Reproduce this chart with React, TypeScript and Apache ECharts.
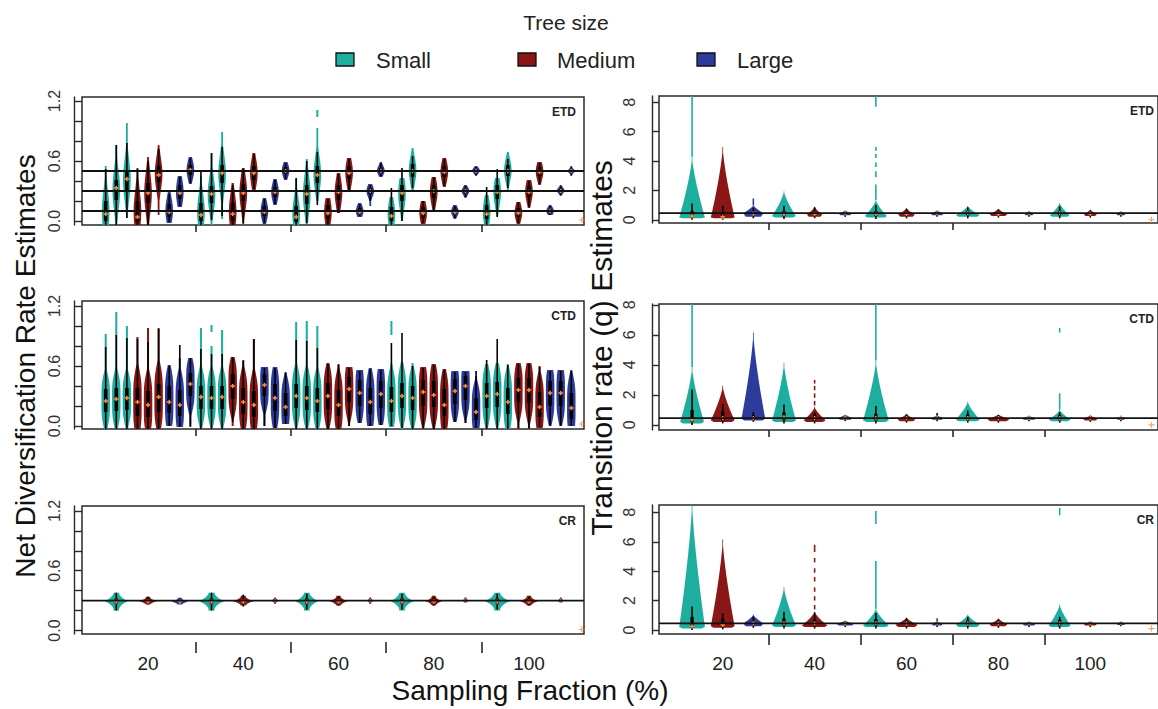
import React, { useEffect, useRef } from "react";
import * as echarts from "echarts";

const FONT = "'Liberation Sans', Arial, Helvetica, sans-serif";
const FRACTIONS = [20, 40, 60, 80, 100];
const SIZES = ["Small", "Medium", "Large"];
const SIZE_COLORS = ["#1dae9f", "#8b1616", "#2d3b9d"];
const MEDIAN_COLOR = "#ff8a3d";
const PANEL_LABELS = ["ETD", "CTD", "CR"];

// Left panels (net diversification rate): [median, q1, q3, whiskerLo, whiskerHi, violinLo, violinHi]
const ETD_RATE: number[][] = [
  [0.07, 0.0, 0.2, -0.04, 0.52, -0.04, 0.55], [0.33, 0.21, 0.41, -0.04, 0.76, -0.04, 0.76], [0.42, 0.31, 0.51, 0.03, 0.78, 0.03, 0.98],
  [0.04, -0.01, 0.2, -0.04, 0.52, -0.04, 0.53], [0.28, 0.18, 0.38, -0.04, 0.6, -0.04, 0.64], [0.46, 0.39, 0.55, 0.3, 0.72, 0.06, 0.76],
  [0.09, 0.04, 0.17, -0.01, 0.27, -0.02, 0.29], [0.28, 0.22, 0.36, 0.15, 0.44, 0.14, 0.45], [0.51, 0.46, 0.56, 0.38, 0.63, 0.37, 0.64],
  [0.06, 0.0, 0.18, -0.04, 0.5, -0.04, 0.45], [0.27, 0.18, 0.35, 0.01, 0.68, -0.04, 0.68], [0.48, 0.38, 0.56, 0.05, 0.74, 0.02, 0.89],
  [0.07, 0.0, 0.18, -0.04, 0.36, -0.04, 0.38], [0.28, 0.2, 0.37, -0.02, 0.52, -0.03, 0.53], [0.48, 0.41, 0.55, 0.32, 0.67, 0.3, 0.68],
  [0.09, 0.05, 0.15, -0.02, 0.22, -0.03, 0.23], [0.29, 0.24, 0.34, 0.17, 0.41, 0.16, 0.42], [0.5, 0.47, 0.54, 0.42, 0.58, 0.41, 0.59],
  [0.04, -0.01, 0.15, -0.04, 0.43, -0.04, 0.42], [0.27, 0.17, 0.36, -0.02, 0.6, -0.03, 0.62], [0.46, 0.38, 0.55, 0.16, 0.69, 0.2, 0.93],
  [0.08, 0.02, 0.16, -0.04, 0.22, -0.04, 0.23], [0.29, 0.21, 0.36, 0.08, 0.47, 0.08, 0.48], [0.48, 0.42, 0.55, 0.31, 0.62, 0.31, 0.63],
  [0.09, 0.07, 0.13, 0.05, 0.17, 0.04, 0.18], [0.3, 0.27, 0.33, 0.2, 0.36, 0.15, 0.37], [0.5, 0.48, 0.53, 0.45, 0.58, 0.44, 0.59],
  [0.05, 0.0, 0.14, -0.04, 0.33, -0.04, 0.24], [0.28, 0.2, 0.36, 0.0, 0.53, 0.0, 0.43], [0.5, 0.44, 0.57, 0.33, 0.65, 0.31, 0.73],
  [0.08, 0.03, 0.14, -0.02, 0.2, -0.03, 0.2], [0.3, 0.23, 0.36, 0.09, 0.44, 0.09, 0.44], [0.49, 0.44, 0.55, 0.35, 0.62, 0.34, 0.63],
  [0.09, 0.07, 0.12, 0.03, 0.15, 0.02, 0.16], [0.3, 0.28, 0.32, 0.24, 0.35, 0.23, 0.36], [0.5, 0.49, 0.52, 0.46, 0.54, 0.45, 0.55],
  [0.07, 0.02, 0.16, -0.04, 0.34, -0.04, 0.26], [0.29, 0.22, 0.36, 0.04, 0.52, 0.05, 0.43], [0.5, 0.45, 0.56, 0.33, 0.62, 0.31, 0.69],
  [0.08, 0.04, 0.13, -0.02, 0.19, -0.03, 0.19], [0.29, 0.24, 0.35, 0.14, 0.4, 0.13, 0.41], [0.49, 0.45, 0.54, 0.37, 0.58, 0.36, 0.59],
  [0.1, 0.08, 0.12, 0.06, 0.15, 0.06, 0.16], [0.3, 0.29, 0.32, 0.26, 0.35, 0.25, 0.36], [0.5, 0.49, 0.51, 0.46, 0.54, 0.45, 0.55],
];
const CTD_RATE: number[][] = [
  [0.25, 0.14, 0.37, -0.04, 0.79, -0.04, 0.92], [0.27, 0.15, 0.38, -0.04, 0.91, -0.04, 1.14], [0.28, 0.16, 0.38, -0.03, 0.88, -0.04, 1.0],
  [0.24, 0.1, 0.38, -0.04, 0.87, -0.04, 0.89], [0.21, 0.09, 0.35, -0.04, 0.84, -0.04, 0.98], [0.29, 0.14, 0.42, -0.04, 0.97, -0.04, 0.98],
  [0.24, 0.13, 0.4, 0.0, 0.6, 0.0, 0.61], [0.21, 0.1, 0.36, -0.01, 0.81, -0.01, 0.68], [0.42, 0.3, 0.53, -0.01, 0.68, 0.0, 0.68],
  [0.29, 0.17, 0.4, -0.03, 0.77, -0.04, 0.98], [0.28, 0.17, 0.4, -0.03, 0.72, -0.04, 0.8], [0.29, 0.17, 0.4, -0.03, 0.72, -0.04, 0.96],
  [0.4, 0.27, 0.52, 0.04, 0.69, 0.0, 0.69], [0.24, 0.12, 0.38, -0.04, 0.65, -0.04, 0.66], [0.21, 0.09, 0.35, -0.04, 0.87, -0.04, 0.87],
  [0.41, 0.3, 0.52, 0.0, 0.58, 0.0, 0.59], [0.28, 0.15, 0.42, -0.02, 0.58, -0.02, 0.59], [0.19, 0.1, 0.33, 0.02, 0.53, 0.02, 0.54],
  [0.3, 0.18, 0.42, -0.03, 0.86, -0.04, 1.04], [0.28, 0.16, 0.4, -0.03, 0.85, -0.04, 1.05], [0.25, 0.14, 0.38, -0.03, 0.78, -0.04, 1.0],
  [0.3, 0.17, 0.43, -0.03, 0.62, -0.04, 0.63], [0.21, 0.1, 0.36, -0.03, 0.61, -0.04, 0.62], [0.37, 0.24, 0.49, 0.0, 0.58, 0.0, 0.59],
  [0.33, 0.2, 0.46, 0.03, 0.55, 0.03, 0.56], [0.24, 0.12, 0.38, 0.0, 0.57, 0.0, 0.58], [0.32, 0.18, 0.45, 0.01, 0.56, 0.01, 0.57],
  [0.25, 0.14, 0.39, 0.0, 0.83, -0.01, 0.62], [0.3, 0.18, 0.43, -0.02, 0.93, -0.03, 0.64], [0.28, 0.16, 0.4, -0.03, 0.6, -0.04, 0.63],
  [0.34, 0.2, 0.46, -0.02, 0.58, -0.03, 0.59], [0.31, 0.19, 0.45, -0.03, 0.61, -0.04, 0.62], [0.21, 0.1, 0.37, -0.03, 0.56, -0.04, 0.57],
  [0.35, 0.22, 0.47, 0.04, 0.54, 0.04, 0.55], [0.4, 0.26, 0.5, 0.03, 0.54, 0.03, 0.55], [0.14, 0.06, 0.28, -0.02, 0.55, -0.02, 0.5],
  [0.3, 0.18, 0.43, -0.03, 0.66, -0.04, 0.62], [0.32, 0.19, 0.44, -0.03, 0.87, -0.04, 0.63], [0.24, 0.12, 0.38, -0.03, 0.61, -0.04, 0.62],
  [0.36, 0.24, 0.48, -0.02, 0.62, -0.03, 0.63], [0.36, 0.23, 0.48, -0.02, 0.62, -0.03, 0.63], [0.19, 0.09, 0.34, -0.01, 0.59, -0.02, 0.6],
  [0.33, 0.2, 0.45, 0.0, 0.55, 0.0, 0.56], [0.33, 0.2, 0.45, 0.0, 0.55, 0.0, 0.56], [0.18, 0.07, 0.33, 0.0, 0.55, 0.0, 0.56],
];
const CR_RATE: number[][] = [
  [0.29, 0.27, 0.32, 0.2, 0.38, 0.2, 0.38], [0.29, 0.28, 0.31, 0.26, 0.34, 0.26, 0.34], [0.29, 0.28, 0.3, 0.27, 0.32, 0.26, 0.33],
  [0.29, 0.27, 0.32, 0.2, 0.38, 0.2, 0.38], [0.29, 0.28, 0.31, 0.24, 0.36, 0.25, 0.35], [0.3, 0.29, 0.31, 0.27, 0.33, 0.27, 0.33],
  [0.29, 0.27, 0.32, 0.21, 0.37, 0.2, 0.38], [0.29, 0.28, 0.31, 0.25, 0.34, 0.25, 0.35], [0.3, 0.29, 0.31, 0.27, 0.33, 0.27, 0.33],
  [0.29, 0.27, 0.32, 0.21, 0.37, 0.2, 0.38], [0.29, 0.28, 0.31, 0.25, 0.34, 0.25, 0.35], [0.3, 0.29, 0.31, 0.28, 0.33, 0.28, 0.33],
  [0.29, 0.27, 0.32, 0.21, 0.37, 0.2, 0.38], [0.29, 0.28, 0.31, 0.25, 0.34, 0.25, 0.35], [0.3, 0.29, 0.31, 0.28, 0.33, 0.28, 0.33],
];
const CR_RATE_WIDTH = [1.1, 0.87, 0.8, 1.2, 1.0, 0.38, 1.1, 0.87, 0.33, 1.1, 0.8, 0.33, 1.2, 0.87, 0.33];
const ETD_RATE_DASHES: number[][] = [[20, 1.04, 1.11]];
const CTD_RATE_DASHES: number[][] = [[10, 0.94, 1.01], [27, 0.91, 1.05]];
const ETD_TRUE_RATES = [0.1, 0.3, 0.5];
const CTD_TRUE_RATES: number[] = [];
const CR_TRUE_RATES = [0.3];

// Right panels (transition rate q): [violinLo, mode, tip, tailHi, halfWidth, median, q1, q3, whiskerHi]
const ETD_Q: number[][] = [
  [0.1, 0.15, 4.3, 8.6, 0.42, 0.25, 0.15, 0.6, 1.1], [0.1, 0.15, 4.95, 0, 0.39, 0.2, 0.12, 0.5, 0.95], [0.2, 0.45, 1.0, 1.45, 0.33, 0.42, 0.35, 0.55, 0.8],
  [0.15, 0.25, 1.95, 0, 0.39, 0.4, 0.25, 0.6, 0.95], [0.2, 0.35, 0.9, 0, 0.25, 0.4, 0.3, 0.55, 0.85], [0.3, 0.42, 0.65, 0, 0.21, 0.45, 0.4, 0.5, 0.6],
  [0.15, 0.25, 1.35, 2.4, 0.36, 0.4, 0.25, 0.6, 1.0], [0.2, 0.35, 0.8, 0, 0.27, 0.4, 0.3, 0.55, 0.75], [0.3, 0.42, 0.65, 0, 0.21, 0.45, 0.4, 0.5, 0.6],
  [0.2, 0.3, 0.95, 0, 0.39, 0.45, 0.3, 0.6, 0.85], [0.25, 0.38, 0.75, 0, 0.29, 0.4, 0.33, 0.5, 0.7], [0.3, 0.42, 0.6, 0, 0.15, 0.45, 0.4, 0.5, 0.55],
  [0.2, 0.3, 1.15, 0, 0.32, 0.45, 0.3, 0.6, 0.9], [0.25, 0.38, 0.7, 0, 0.21, 0.42, 0.35, 0.5, 0.65], [0.3, 0.42, 0.55, 0, 0.15, 0.45, 0.42, 0.5, 0.52],
];
const CTD_Q: number[][] = [
  [0.1, 0.2, 3.85, 8.3, 0.39, 0.35, 0.2, 1.0, 2.35], [0.2, 0.3, 2.6, 0, 0.39, 0.45, 0.3, 0.9, 1.4], [0.3, 0.4, 6.15, 0, 0.39, 0.45, 0.35, 0.65, 0.85],
  [0.2, 0.3, 4.15, 0, 0.39, 0.5, 0.3, 0.85, 1.35], [0.2, 0.3, 1.2, 0, 0.36, 0.45, 0.3, 0.7, 0.85], [0.35, 0.45, 0.7, 0, 0.24, 0.5, 0.42, 0.55, 0.65],
  [0.2, 0.3, 4.3, 8.3, 0.42, 0.45, 0.3, 0.75, 1.25], [0.25, 0.35, 0.75, 0, 0.29, 0.45, 0.35, 0.55, 0.7], [0.35, 0.45, 0.65, 0, 0.21, 0.5, 0.42, 0.55, 0.8],
  [0.25, 0.35, 1.55, 0, 0.39, 0.45, 0.35, 0.7, 0.95], [0.25, 0.38, 0.7, 0, 0.36, 0.45, 0.35, 0.55, 0.65], [0.35, 0.45, 0.6, 0, 0.24, 0.48, 0.42, 0.52, 0.55],
  [0.25, 0.35, 1.0, 2.1, 0.36, 0.45, 0.35, 0.65, 0.85], [0.3, 0.4, 0.65, 0, 0.24, 0.45, 0.4, 0.52, 0.6], [0.35, 0.45, 0.55, 0, 0.15, 0.48, 0.44, 0.52, 0.52],
];
const CR_Q: number[][] = [
  [0.1, 0.2, 8.7, 0, 0.42, 0.25, 0.15, 0.9, 1.6], [0.15, 0.25, 6.15, 0, 0.39, 0.35, 0.2, 0.8, 1.15], [0.25, 0.45, 1.05, 0, 0.33, 0.45, 0.38, 0.55, 0.9],
  [0.2, 0.3, 2.95, 0, 0.39, 0.45, 0.3, 0.8, 1.25], [0.2, 0.3, 1.25, 0, 0.42, 0.45, 0.3, 0.7, 1.2], [0.3, 0.42, 0.65, 0, 0.28, 0.45, 0.4, 0.52, 0.6],
  [0.2, 0.3, 1.45, 4.7, 0.42, 0.45, 0.3, 0.75, 1.15], [0.2, 0.35, 0.85, 0, 0.36, 0.45, 0.35, 0.6, 0.8], [0.3, 0.42, 0.6, 0.8, 0.18, 0.45, 0.4, 0.5, 0.6],
  [0.2, 0.35, 1.05, 0, 0.39, 0.45, 0.35, 0.65, 0.9], [0.25, 0.38, 0.8, 0, 0.29, 0.45, 0.38, 0.55, 0.7], [0.3, 0.42, 0.55, 0, 0.21, 0.45, 0.42, 0.5, 0.52],
  [0.2, 0.3, 1.75, 0, 0.36, 0.45, 0.3, 0.7, 0.9], [0.3, 0.4, 0.6, 0, 0.21, 0.45, 0.4, 0.5, 0.55], [0.35, 0.45, 0.55, 0, 0.15, 0.47, 0.43, 0.5, 0.52],
];
// isolated tail fragments: [violinIndex, from, to]
const ETD_Q_DASHES: number[][] = [[6, 2.9, 3.3], [6, 3.6, 3.9], [6, 4.2, 4.5], [6, 4.7, 4.95], [6, 7.7, 8.6]];
const CTD_Q_DASHES: number[][] = [[4, 1.3, 1.6], [4, 1.8, 2.1], [4, 2.3, 2.6], [4, 2.75, 3.0], [12, 6.15, 6.45]];
const CR_Q_DASHES: number[][] = [[4, 1.4, 1.7], [4, 2.0, 2.3], [4, 2.6, 2.9], [4, 3.3, 3.6], [4, 3.9, 4.2], [4, 4.6, 4.9], [4, 5.3, 5.8], [6, 7.2, 8.1], [12, 7.8, 8.3]];
const Q_TRUE = [0.45];

// orange marker at the far right of every panel: [x slot, value]
const EDGE_MARKS: number[][] = [[45, 0.01], [45, 0.02], [45, 0.01], [15, 0.0], [15, 0.0], [15, 0.1]];

const LEFT_Y_TICKS = [0, 0.2, 0.4, 0.6, 0.8, 1.0, 1.2];
const LEFT_Y_LABELS = [0, 0.6, 1.2];
const RIGHT_Y_TICKS = [0, 2, 4, 6, 8];

function plusMark(pt: number[], color: string, s = 2.4) {
  return [
    { type: "rect", shape: { x: pt[0] - s, y: pt[1] - 0.8, width: 2 * s, height: 1.6 }, style: { fill: color } },
    { type: "rect", shape: { x: pt[0] - 0.8, y: pt[1] - s, width: 1.6, height: 2 * s }, style: { fill: color } },
  ];
}
function seg(api: any, x: number, a: number, b: number, color: string, w: number) {
  const p1 = api.coord([x, a]);
  const p2 = api.coord([x, b]);
  return { type: "line", shape: { x1: p1[0], y1: p1[1], x2: p2[0], y2: p2[1] }, style: { stroke: color, lineWidth: w } };
}

function leftRender(rows: number[][], widthOf: (i: number) => number, pw: number, sf: number, dashes: number[][], color: string) {
  return (params: any, api: any) => {
    const i = api.value(2);
    const x = api.value(0);
    const [med, q1, q3, wLo, wHi, vLo, vHi] = rows[i];
    const W = widthOf(i);
    const c = (q1 + q3) / 2;
    const s = sf > 0 ? Math.max((q3 - q1) * sf, 0.012) : (vHi - vLo) / 7;
    const N = 60;
    const L: number[][] = [];
    const R: number[][] = [];
    for (let k = 0; k <= N; k++) {
      const y = vLo + ((vHi - vLo) * k) / N;
      const f = Math.max(0.24, Math.exp(-0.5 * Math.pow(Math.abs(y - c) / s, pw)));
      L.push(api.coord([x - W * f, y]));
      R.push(api.coord([x + W * f, y]));
    }
    const children: any[] = [{ type: "polygon", shape: { points: L.concat(R.reverse()) }, style: { fill: color } }];
    dashes.filter((d) => d[0] === i).forEach((d) => children.push(seg(api, x, d[1], d[2], color, 2)));
    children.push(seg(api, x, wLo, wHi, "#000", 1.6));
    const t1 = api.coord([x, q3]);
    const t2 = api.coord([x, q1]);
    children.push({ type: "rect", shape: { x: t1[0] - 1.8, y: t1[1], width: 3.6, height: Math.max(t2[1] - t1[1], 1) }, style: { fill: "#000" } });
    children.push(...plusMark(api.coord([x, med]), MEDIAN_COLOR, 2.2));
    return { type: "group", children };
  };
}

function rightRender(rows: number[][], dashes: number[][], color: string) {
  return (params: any, api: any) => {
    const i = api.value(2);
    const x = api.value(0);
    const [vLo, mode, tip, tail, W, med, q1, q3, wHi] = rows[i];
    const N = 80;
    const L: number[][] = [];
    const R: number[][] = [];
    for (let k = 0; k <= N; k++) {
      const y = vLo + ((tip - vLo) * k) / N;
      let f: number;
      if (y <= mode) f = 0.75 + (0.25 * (y - vLo)) / Math.max(mode - vLo, 1e-6);
      else f = Math.pow(Math.max(0, 1 - (y - mode) / (tip - mode)), 1.35);
      f = Math.max(f, 0.03);
      L.push(api.coord([x - W * f, y]));
      R.push(api.coord([x + W * f, y]));
    }
    const children: any[] = [{ type: "polygon", shape: { points: L.concat(R.reverse()) }, style: { fill: color } }];
    if (tail > tip) children.push(seg(api, x, tip, tail, color, 1.6));
    dashes.filter((d) => d[0] === i).forEach((d) => children.push(seg(api, x, d[1], d[2], color, 1.6)));
    children.push(seg(api, x, vLo - 0.1, wHi, "#000", 1.6));
    const t1 = api.coord([x, q3]);
    const t2 = api.coord([x, q1]);
    children.push({ type: "rect", shape: { x: t1[0] - 1.6, y: t1[1], width: 3.2, height: Math.max(t2[1] - t1[1], 1) }, style: { fill: "#000" } });
    children.push(...plusMark(api.coord([x, med]), MEDIAN_COLOR, 2.2));
    return { type: "group", children };
  };
}

function buildOption() {
  const LEFT_X: [number, number] = [-2.24, 45.2];
  const RIGHT_X: [number, number] = [-1.08, 15.21];
  const grids = [
    { left: 82, top: 97, width: 502, height: 128 },
    { left: 82, top: 301, width: 502, height: 128 },
    { left: 82, top: 506, width: 502, height: 128 },
    { left: 659, top: 96, width: 502, height: 127 },
    { left: 659, top: 304, width: 502, height: 126 },
    { left: 659, top: 505, width: 502, height: 129 },
  ].map((g) => ({ ...g, show: true, borderColor: "#2a2a2a", borderWidth: 1.5, backgroundColor: "transparent" }));
  const yRanges = [
    [-0.04, 1.24], [-0.03, 1.25], [-0.035, 1.25],
    [-0.22, 8.43], [-0.34, 8.05], [-0.27, 8.5],
  ];
  const axisColor = "#2a2a2a";
  const leftLabelPos = FRACTIONS.map((_, g) => 9 * g + 4);
  const rightLabelPos = FRACTIONS.map((_, g) => 3 * g + 1);
  const leftTicks = FRACTIONS.slice(1).map((_, g) => 9 * (g + 1) - 0.5);
  const rightTicks = FRACTIONS.slice(1).map((_, g) => 3 * (g + 1) - 0.5);

  const xAxes = grids.map((_, gi) => {
    const isLeft = gi < 3;
    const bottom = gi === 2 || gi === 5;
    return {
      gridIndex: gi,
      type: "value",
      position: "bottom",
      min: isLeft ? LEFT_X[0] : RIGHT_X[0],
      max: isLeft ? LEFT_X[1] : RIGHT_X[1],
      offset: gi === 2 ? 8 : 0,
      axisLine: { show: false, onZero: false },
      splitLine: { show: false },
      axisTick: {
        show: true,
        length: bottom ? 11 : 7,
        customValues: isLeft ? leftTicks : rightTicks,
        lineStyle: { color: axisColor, width: 1.6 },
      },
      axisLabel: {
        show: bottom,
        customValues: isLeft ? leftLabelPos : rightLabelPos,
        formatter: (v: number) => String(FRACTIONS[Math.round(isLeft ? (v - 4) / 9 : (v - 1) / 3)]),
        margin: gi === 2 ? 12 : 20,
        fontSize: 19,
        fontFamily: FONT,
        color: "#222",
      },
    };
  });
  const yAxes = grids.map((_, gi) => {
    const isLeft = gi < 3;
    return {
      gridIndex: gi,
      type: "value",
      position: "left",
      min: yRanges[gi][0],
      max: yRanges[gi][1],
      offset: isLeft ? 8 : 7,
      splitLine: { show: false },
      axisLine: { show: true, onZero: false, lineStyle: { color: axisColor, width: 1.4 } },
      axisTick: {
        show: true,
        inside: true,
        length: isLeft ? 8 : 7,
        customValues: isLeft ? LEFT_Y_TICKS : RIGHT_Y_TICKS,
        lineStyle: { color: axisColor, width: 1.4 },
      },
      axisLabel: {
        customValues: isLeft ? LEFT_Y_LABELS : RIGHT_Y_TICKS,
        formatter: (v: number) => (isLeft ? v.toFixed(1) : String(v)),
        rotate: 90,
        margin: isLeft ? 12 : 15,
        fontSize: 16,
        fontFamily: FONT,
        color: "#333",
      },
    };
  });

  const series: any[] = [];
  const leftSets = [
    { rows: ETD_RATE, dashes: ETD_RATE_DASHES, truth: ETD_TRUE_RATES, pw: 2, sf: 1.0, W: 0.36 },
    { rows: CTD_RATE, dashes: CTD_RATE_DASHES, truth: CTD_TRUE_RATES, pw: 4, sf: 1.05, W: 0.4 },
    { rows: CR_RATE, dashes: [] as number[][], truth: CR_TRUE_RATES, pw: 1, sf: 0, W: 1 },
  ];
  leftSets.forEach((set, gi) => {
    const isCR = gi === 2;
    SIZES.forEach((name, s) => {
      const data: number[][] = [];
      set.rows.forEach((r, i) => {
        const sizeIdx = isCR ? i % 3 : Math.floor((i % 9) / 3);
        if (sizeIdx !== s) return;
        data.push([isCR ? 3 * i + 1 : i, r[0], i]);
      });
      series.push({
        type: "custom",
        name,
        xAxisIndex: gi,
        yAxisIndex: gi,
        clip: true,
        z: 2,
        encode: { x: 0, y: 1 },
        data,
        renderItem: leftRender(set.rows, (i) => (isCR ? CR_RATE_WIDTH[i] : set.W), set.pw, set.sf, set.dashes, SIZE_COLORS[s]),
      });
    });
    set.truth.forEach((t) => {
      series.push({
        type: "line", xAxisIndex: gi, yAxisIndex: gi, z: 5, silent: true, symbol: "none",
        data: [[LEFT_X[0], t], [LEFT_X[1], t]],
        lineStyle: { color: "#111", width: 1.8 },
      });
    });
  });
  const rightSets = [
    { rows: ETD_Q, dashes: ETD_Q_DASHES },
    { rows: CTD_Q, dashes: CTD_Q_DASHES },
    { rows: CR_Q, dashes: CR_Q_DASHES },
  ];
  rightSets.forEach((set, k) => {
    const gi = k + 3;
    SIZES.forEach((name, s) => {
      const data: number[][] = [];
      set.rows.forEach((r, i) => {
        if (i % 3 !== s) return;
        data.push([i, r[5], i]);
      });
      series.push({
        type: "custom", name, xAxisIndex: gi, yAxisIndex: gi, clip: true, z: 2,
        encode: { x: 0, y: 1 }, data,
        renderItem: rightRender(set.rows, set.dashes, SIZE_COLORS[s]),
      });
    });
    Q_TRUE.forEach((t) => {
      series.push({
        type: "line", xAxisIndex: gi, yAxisIndex: gi, z: 5, silent: true, symbol: "none",
        data: [[RIGHT_X[0], t], [RIGHT_X[1], t]],
        lineStyle: { color: "#111", width: 1.8 },
      });
    });
  });
  EDGE_MARKS.forEach((m, gi) => {
    series.push({
      type: "scatter", xAxisIndex: gi, yAxisIndex: gi, z: 6, silent: true,
      symbol: "path://M2,0H3V2H5V3H3V5H2V3H0V2H2Z", symbolSize: 6,
      itemStyle: { color: MEDIAN_COLOR },
      data: [m],
    });
  });

  const graphics: any[] = [];
  graphics.push({ type: "text", x: 566, y: 22, style: { text: "Tree size", font: `21px ${FONT}`, fill: "#222", align: "center", verticalAlign: "middle" } });
  const sqX = [336, 518, 697];
  const txtX = [376, 557, 737];
  SIZES.forEach((name, s) => {
    graphics.push({ type: "rect", shape: { x: sqX[s], y: 53, width: 18, height: 13 }, style: { fill: SIZE_COLORS[s], stroke: "#111", lineWidth: 1.3 } });
    graphics.push({ type: "text", x: txtX[s], y: 60, style: { text: name, font: `22px ${FONT}`, fill: "#222", align: "left", verticalAlign: "middle" } });
  });
  grids.forEach((g, gi) => {
    const rightEdge = gi < 3 ? g.left + g.width - 8 : 1154;
    graphics.push({
      type: "text", x: rightEdge, y: g.top + 15,
      style: { text: PANEL_LABELS[gi % 3], font: `bold 12px ${FONT}`, fill: "#222", align: "right", verticalAlign: "middle" },
    });
  });
  graphics.push({ type: "text", x: 25, y: 366, rotation: Math.PI / 2, style: { text: "Net Diversification Rate Estimates", font: `28px ${FONT}`, fill: "#111", align: "center", verticalAlign: "middle" } });
  graphics.push({ type: "text", x: 601, y: 348, rotation: Math.PI / 2, style: { text: "Transition rate (q) Estimates", font: `30px ${FONT}`, fill: "#111", align: "center", verticalAlign: "middle" } });
  graphics.push({ type: "text", x: 530, y: 690, style: { text: "Sampling Fraction (%)", font: `28px ${FONT}`, fill: "#111", align: "center", verticalAlign: "middle" } });

  return {
    animation: false,
    backgroundColor: "#ffffff",
    grid: grids,
    xAxis: xAxes,
    yAxis: yAxes,
    series,
    graphic: { elements: graphics },
  };
}

export default function App() {
  const ref = useRef<HTMLDivElement>(null);
  useEffect(() => {
    document.body.style.margin = "0";
    const chart = echarts.init(ref.current as HTMLDivElement, null, { renderer: "svg" });
    chart.setOption(buildOption() as any);
    return () => chart.dispose();
  }, []);
  return <div ref={ref} style={{ width: 1158, height: 709 }} />;
}
